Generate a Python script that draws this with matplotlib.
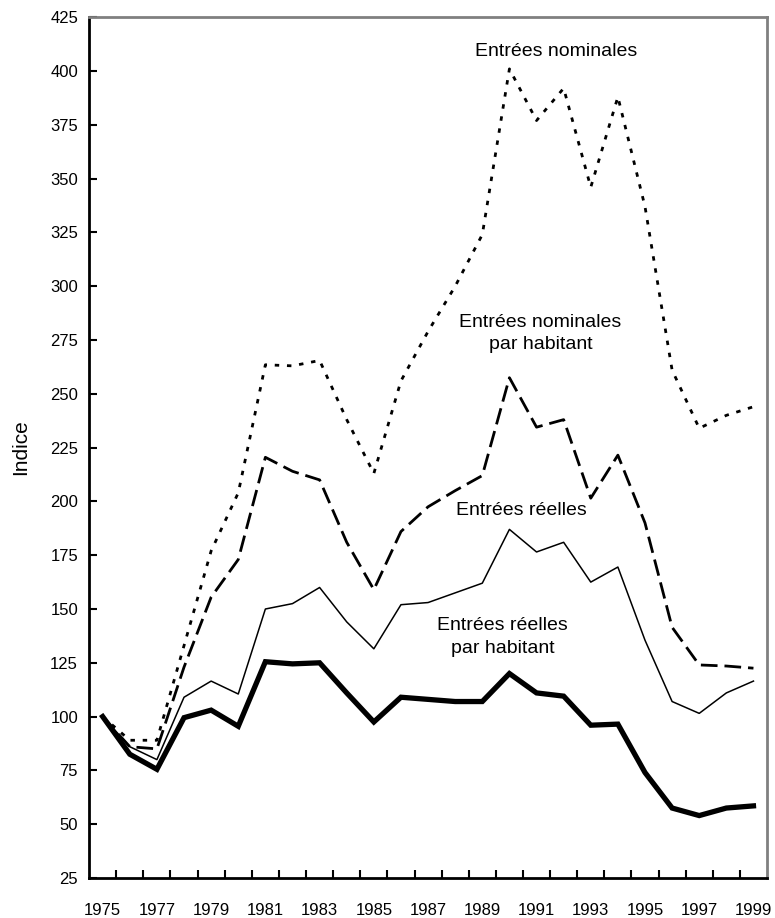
import numpy as np
import matplotlib.pyplot as plt

# --- data (indice, 1975 = 100) ---
years = list(range(1975, 2000))

nominales = [100, 89, 89, 133, 177, 204, 263.5, 263, 265.5, 238, 213,
             256, 279, 300, 324, 401, 377, 392, 346, 388, 337, 261,
             234, 240, 244]

nominales_hab = [100, 86, 85, 123, 155.5, 173, 220.5, 214, 210, 181, 159,
                 186, 197.5, 205, 212, 257.5, 234.5, 238, 201.5, 221.5,
                 190, 141.5, 124, 123.5, 122.5]

reelles = [100, 86, 80, 109, 116.5, 110.5, 150, 152.5, 160, 144, 131.5,
           152, 153, 157.5, 162, 187, 176.5, 181, 162.5, 169.5, 135.5,
           107, 101.5, 111, 116.5]

reelles_hab = [100, 82.5, 75.5, 99.5, 103, 95.5, 125.5, 124.5, 125, 111,
               97.5, 109, 108, 107, 107, 120, 111, 109.5, 96, 96.5, 74,
               57.5, 54, 57.5, 58.5]

labels = [str(y) if (y - 1975) % 2 == 0 else '' for y in years]

plt.rcParams['font.family'] = ['Liberation Sans', 'DejaVu Sans']

fig = plt.figure(figsize=(7.75, 9.18), dpi=100)
ax = fig.add_axes([0.115, 0.0436, 0.8747, 0.9376])

x = np.arange(len(years))

ax.plot(x, nominales, color='black', lw=2.0, linestyle=(0, (1.6, 2.8)),
        dash_capstyle='butt')
ax.plot(x, nominales_hab, color='black', lw=2.0, linestyle=(0, (6, 2.5)),
        dash_capstyle='butt')
ax.plot(x, reelles, color='black', lw=1.1)
ax.plot(x, reelles_hab, color='black', lw=3.8, solid_joinstyle='miter')

# --- series labels ---
ax.text(16.74, 409, 'Entrées nominales', ha='center', va='center', fontsize=14)
ax.text(16.15, 278, 'Entrées nominales\npar habitant', ha='center',
        va='center', fontsize=14, linespacing=1.45)
ax.text(15.45, 196, 'Entrées réelles', ha='center', va='center', fontsize=14)
ax.text(14.75, 137, 'Entrées réelles\npar habitant', ha='center',
        va='center', fontsize=14, linespacing=1.45)

# --- axes ---
ax.set_xlim(-0.5, len(years) - 0.5)
ax.set_ylim(25, 425)
ax.set_yticks(np.arange(25, 426, 25))
ax.set_xticks(x)
ax.set_xticklabels(labels)
ax.set_xticks(np.arange(0.5, len(years) - 1, 1), minor=True)
ax.tick_params(axis='x', which='major', length=0, labelsize=12, pad=18)
ax.tick_params(axis='x', which='minor', direction='in', length=6, width=1.5)
ax.tick_params(axis='y', direction='in', length=6, width=1.5, labelsize=12,
               pad=8)
ax.set_ylabel('Indice', fontsize=15, labelpad=14)

for side in ['left', 'bottom']:
    ax.spines[side].set_color('black')
    ax.spines[side].set_linewidth(2)
for side in ['top', 'right']:
    ax.spines[side].set_color('#808080')
    ax.spines[side].set_linewidth(2)

plt.savefig('out.png', dpi=100)
